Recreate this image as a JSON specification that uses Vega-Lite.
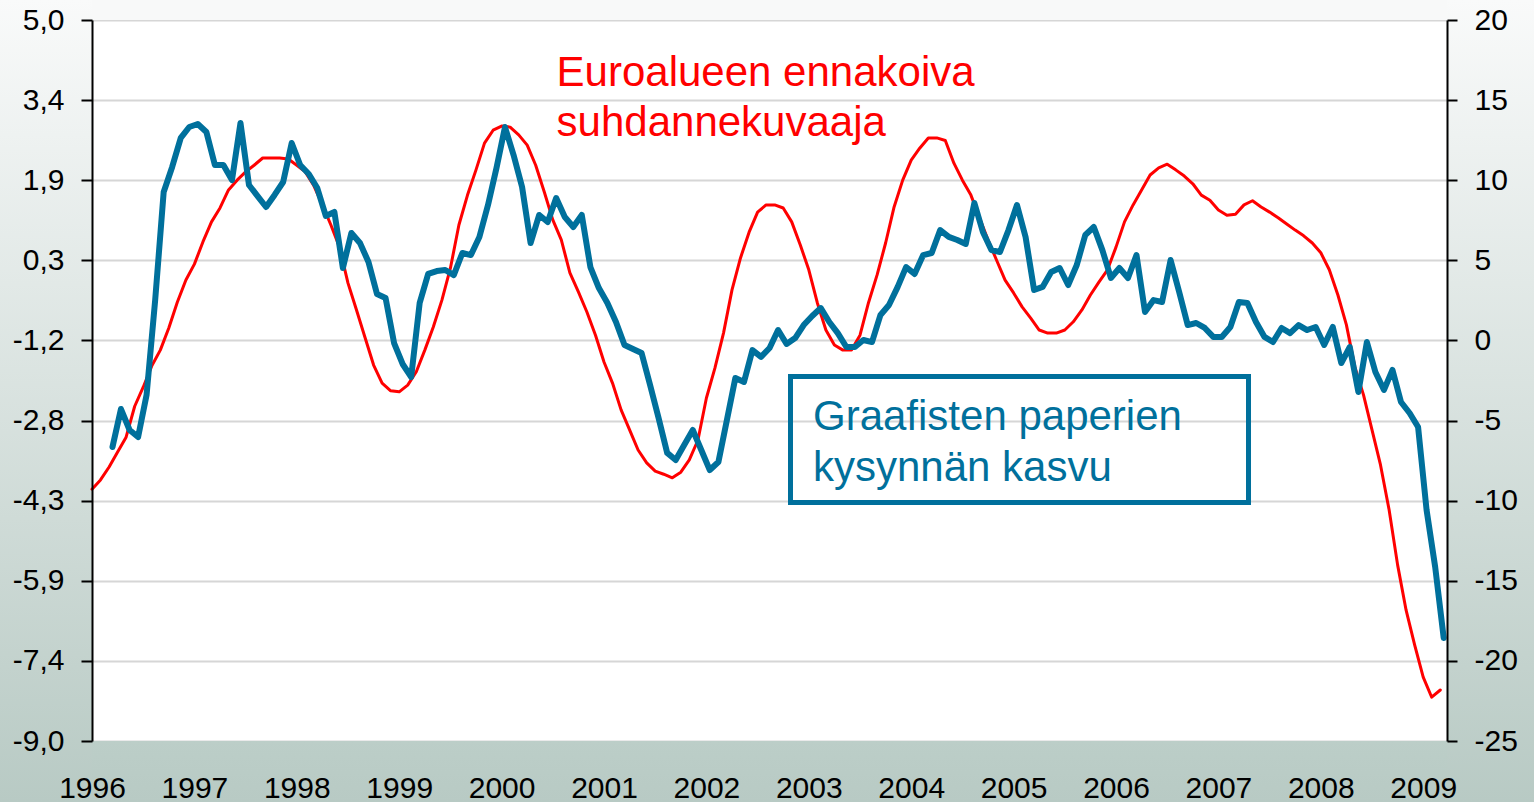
{
  "$schema": "https://vega.github.io/schema/vega-lite/v6.json",
  "width": 1355,
  "height": 721,
  "autosize": {"type": "none"},
  "padding": {"left": 92, "top": 20, "right": 87, "bottom": 61},
  "background": "#ffffff",
  "config": {
    "view": {"stroke": null, "fill": "#ffffff"},
    "font": "Liberation Sans",
    "locale": {"number": {"decimal": ",", "thousands": " ", "grouping": [3], "currency": ["", " EUR"], "minus": "-"}}
  },
  "datasets": {
    "euro": [
      {"t": 1996.000, "v": -4.11}, {"t": 1996.083, "v": -3.93}, {"t": 1996.167, "v": -3.68}, {"t": 1996.250, "v": -3.39},
      {"t": 1996.333, "v": -3.10}, {"t": 1996.417, "v": -2.50}, {"t": 1996.500, "v": -2.13}, {"t": 1996.583, "v": -1.72},
      {"t": 1996.667, "v": -1.41}, {"t": 1996.750, "v": -0.98}, {"t": 1996.833, "v": -0.48}, {"t": 1996.917, "v": -0.05},
      {"t": 1997.000, "v": 0.26}, {"t": 1997.083, "v": 0.69}, {"t": 1997.167, "v": 1.08}, {"t": 1997.250, "v": 1.35},
      {"t": 1997.333, "v": 1.70}, {"t": 1997.417, "v": 1.89}, {"t": 1997.500, "v": 2.05}, {"t": 1997.583, "v": 2.18},
      {"t": 1997.667, "v": 2.32}, {"t": 1997.750, "v": 2.32}, {"t": 1997.833, "v": 2.32}, {"t": 1997.917, "v": 2.30},
      {"t": 1998.000, "v": 2.18}, {"t": 1998.083, "v": 2.05}, {"t": 1998.167, "v": 1.78}, {"t": 1998.250, "v": 1.41},
      {"t": 1998.333, "v": 1.02}, {"t": 1998.417, "v": 0.59}, {"t": 1998.500, "v": -0.11}, {"t": 1998.583, "v": -0.63},
      {"t": 1998.667, "v": -1.17}, {"t": 1998.750, "v": -1.70}, {"t": 1998.833, "v": -2.05}, {"t": 1998.917, "v": -2.20},
      {"t": 1999.000, "v": -2.22}, {"t": 1999.083, "v": -2.09}, {"t": 1999.167, "v": -1.83}, {"t": 1999.250, "v": -1.41},
      {"t": 1999.333, "v": -0.96}, {"t": 1999.417, "v": -0.44}, {"t": 1999.500, "v": 0.18}, {"t": 1999.583, "v": 1.02},
      {"t": 1999.667, "v": 1.60}, {"t": 1999.750, "v": 2.09}, {"t": 1999.833, "v": 2.61}, {"t": 1999.917, "v": 2.86},
      {"t": 2000.000, "v": 2.94}, {"t": 2000.083, "v": 2.92}, {"t": 2000.167, "v": 2.77}, {"t": 2000.250, "v": 2.57},
      {"t": 2000.333, "v": 2.18}, {"t": 2000.417, "v": 1.66}, {"t": 2000.500, "v": 1.12}, {"t": 2000.583, "v": 0.73},
      {"t": 2000.667, "v": 0.09}, {"t": 2000.750, "v": -0.28}, {"t": 2000.833, "v": -0.67}, {"t": 2000.917, "v": -1.12},
      {"t": 2001.000, "v": -1.64}, {"t": 2001.083, "v": -2.05}, {"t": 2001.167, "v": -2.57}, {"t": 2001.250, "v": -2.96},
      {"t": 2001.333, "v": -3.35}, {"t": 2001.417, "v": -3.60}, {"t": 2001.500, "v": -3.76}, {"t": 2001.583, "v": -3.82},
      {"t": 2001.667, "v": -3.89}, {"t": 2001.750, "v": -3.78}, {"t": 2001.833, "v": -3.54}, {"t": 2001.917, "v": -3.16},
      {"t": 2002.000, "v": -2.34}, {"t": 2002.083, "v": -1.76}, {"t": 2002.167, "v": -1.08}, {"t": 2002.250, "v": -0.24},
      {"t": 2002.333, "v": 0.38}, {"t": 2002.417, "v": 0.88}, {"t": 2002.500, "v": 1.27}, {"t": 2002.583, "v": 1.41},
      {"t": 2002.667, "v": 1.41}, {"t": 2002.750, "v": 1.35}, {"t": 2002.833, "v": 1.08}, {"t": 2002.917, "v": 0.63},
      {"t": 2003.000, "v": 0.15}, {"t": 2003.083, "v": -0.49}, {"t": 2003.167, "v": -1.02}, {"t": 2003.250, "v": -1.31},
      {"t": 2003.333, "v": -1.41}, {"t": 2003.417, "v": -1.41}, {"t": 2003.500, "v": -1.12}, {"t": 2003.583, "v": -0.49},
      {"t": 2003.667, "v": 0.05}, {"t": 2003.750, "v": 0.67}, {"t": 2003.833, "v": 1.37}, {"t": 2003.917, "v": 1.89},
      {"t": 2004.000, "v": 2.28}, {"t": 2004.083, "v": 2.51}, {"t": 2004.167, "v": 2.71}, {"t": 2004.250, "v": 2.71},
      {"t": 2004.333, "v": 2.66}, {"t": 2004.417, "v": 2.22}, {"t": 2004.500, "v": 1.89}, {"t": 2004.583, "v": 1.60},
      {"t": 2004.667, "v": 1.16}, {"t": 2004.750, "v": 0.73}, {"t": 2004.833, "v": 0.34}, {"t": 2004.917, "v": -0.05},
      {"t": 2005.000, "v": -0.30}, {"t": 2005.083, "v": -0.57}, {"t": 2005.167, "v": -0.79}, {"t": 2005.250, "v": -1.02},
      {"t": 2005.333, "v": -1.08}, {"t": 2005.417, "v": -1.08}, {"t": 2005.500, "v": -1.02}, {"t": 2005.583, "v": -0.86},
      {"t": 2005.667, "v": -0.63}, {"t": 2005.750, "v": -0.34}, {"t": 2005.833, "v": -0.09}, {"t": 2005.917, "v": 0.15},
      {"t": 2006.000, "v": 0.59}, {"t": 2006.083, "v": 1.08}, {"t": 2006.167, "v": 1.41}, {"t": 2006.250, "v": 1.70},
      {"t": 2006.333, "v": 1.99}, {"t": 2006.417, "v": 2.13}, {"t": 2006.500, "v": 2.20}, {"t": 2006.583, "v": 2.09},
      {"t": 2006.667, "v": 1.97}, {"t": 2006.750, "v": 1.82}, {"t": 2006.833, "v": 1.60}, {"t": 2006.917, "v": 1.50},
      {"t": 2007.000, "v": 1.31}, {"t": 2007.083, "v": 1.21}, {"t": 2007.167, "v": 1.23}, {"t": 2007.250, "v": 1.41},
      {"t": 2007.333, "v": 1.49}, {"t": 2007.417, "v": 1.37}, {"t": 2007.500, "v": 1.27}, {"t": 2007.583, "v": 1.16},
      {"t": 2007.667, "v": 1.04}, {"t": 2007.750, "v": 0.92}, {"t": 2007.833, "v": 0.81}, {"t": 2007.917, "v": 0.67},
      {"t": 2008.000, "v": 0.48}, {"t": 2008.083, "v": 0.15}, {"t": 2008.167, "v": -0.34}, {"t": 2008.250, "v": -0.92},
      {"t": 2008.333, "v": -1.74}, {"t": 2008.417, "v": -2.28}, {"t": 2008.500, "v": -2.96}, {"t": 2008.583, "v": -3.64},
      {"t": 2008.667, "v": -4.51}, {"t": 2008.750, "v": -5.58}, {"t": 2008.833, "v": -6.46}, {"t": 2008.917, "v": -7.14},
      {"t": 2009.000, "v": -7.76}, {"t": 2009.083, "v": -8.15}, {"t": 2009.167, "v": -8.01}
    ],
    "paper": [
      {"t": 1996.200, "v": -6.65}, {"t": 1996.283, "v": -4.28}, {"t": 1996.367, "v": -5.59}, {"t": 1996.450, "v": -6.03},
      {"t": 1996.533, "v": -3.40}, {"t": 1996.617, "v": 2.52}, {"t": 1996.700, "v": 9.26}, {"t": 1996.783, "v": 10.83},
      {"t": 1996.867, "v": 12.64}, {"t": 1996.950, "v": 13.32}, {"t": 1997.033, "v": 13.51}, {"t": 1997.117, "v": 13.01},
      {"t": 1997.200, "v": 10.95}, {"t": 1997.283, "v": 10.95}, {"t": 1997.367, "v": 10.01}, {"t": 1997.450, "v": 13.57},
      {"t": 1997.533, "v": 9.70}, {"t": 1997.617, "v": 9.01}, {"t": 1997.700, "v": 8.33}, {"t": 1997.783, "v": 9.08},
      {"t": 1997.867, "v": 9.89}, {"t": 1997.950, "v": 12.32}, {"t": 1998.033, "v": 10.95}, {"t": 1998.117, "v": 10.39},
      {"t": 1998.200, "v": 9.51}, {"t": 1998.283, "v": 7.77}, {"t": 1998.367, "v": 8.02}, {"t": 1998.450, "v": 4.52},
      {"t": 1998.533, "v": 6.71}, {"t": 1998.617, "v": 6.08}, {"t": 1998.700, "v": 4.90}, {"t": 1998.783, "v": 2.90},
      {"t": 1998.867, "v": 2.65}, {"t": 1998.950, "v": -0.16}, {"t": 1999.033, "v": -1.47}, {"t": 1999.117, "v": -2.28},
      {"t": 1999.200, "v": 2.34}, {"t": 1999.283, "v": 4.15}, {"t": 1999.367, "v": 4.33}, {"t": 1999.450, "v": 4.40},
      {"t": 1999.533, "v": 4.08}, {"t": 1999.617, "v": 5.46}, {"t": 1999.700, "v": 5.33}, {"t": 1999.783, "v": 6.46},
      {"t": 1999.867, "v": 8.45}, {"t": 1999.950, "v": 10.76}, {"t": 2000.033, "v": 13.32}, {"t": 2000.117, "v": 11.57},
      {"t": 2000.200, "v": 9.58}, {"t": 2000.283, "v": 6.08}, {"t": 2000.367, "v": 7.83}, {"t": 2000.450, "v": 7.39},
      {"t": 2000.533, "v": 8.89}, {"t": 2000.617, "v": 7.70}, {"t": 2000.700, "v": 7.08}, {"t": 2000.783, "v": 7.83},
      {"t": 2000.867, "v": 4.58}, {"t": 2000.950, "v": 3.27}, {"t": 2001.033, "v": 2.34}, {"t": 2001.117, "v": 1.15},
      {"t": 2001.200, "v": -0.28}, {"t": 2001.283, "v": -0.53}, {"t": 2001.367, "v": -0.78}, {"t": 2001.450, "v": -2.78},
      {"t": 2001.533, "v": -4.84}, {"t": 2001.617, "v": -7.02}, {"t": 2001.700, "v": -7.46}, {"t": 2001.783, "v": -6.53},
      {"t": 2001.867, "v": -5.59}, {"t": 2001.950, "v": -6.84}, {"t": 2002.033, "v": -8.09}, {"t": 2002.117, "v": -7.59},
      {"t": 2002.200, "v": -4.97}, {"t": 2002.283, "v": -2.34}, {"t": 2002.367, "v": -2.59}, {"t": 2002.450, "v": -0.60},
      {"t": 2002.533, "v": -1.03}, {"t": 2002.617, "v": -0.47}, {"t": 2002.700, "v": 0.65}, {"t": 2002.783, "v": -0.22},
      {"t": 2002.867, "v": 0.15}, {"t": 2002.950, "v": 0.96}, {"t": 2003.033, "v": 1.53}, {"t": 2003.117, "v": 2.02},
      {"t": 2003.200, "v": 1.15}, {"t": 2003.283, "v": 0.46}, {"t": 2003.367, "v": -0.41}, {"t": 2003.450, "v": -0.41},
      {"t": 2003.533, "v": 0.03}, {"t": 2003.617, "v": -0.10}, {"t": 2003.700, "v": 1.59}, {"t": 2003.783, "v": 2.21},
      {"t": 2003.867, "v": 3.33}, {"t": 2003.950, "v": 4.58}, {"t": 2004.033, "v": 4.15}, {"t": 2004.117, "v": 5.33},
      {"t": 2004.200, "v": 5.46}, {"t": 2004.283, "v": 6.89}, {"t": 2004.367, "v": 6.46}, {"t": 2004.450, "v": 6.27},
      {"t": 2004.533, "v": 6.02}, {"t": 2004.617, "v": 8.58}, {"t": 2004.700, "v": 6.77}, {"t": 2004.783, "v": 5.64},
      {"t": 2004.867, "v": 5.52}, {"t": 2004.950, "v": 6.89}, {"t": 2005.033, "v": 8.45}, {"t": 2005.117, "v": 6.46},
      {"t": 2005.200, "v": 3.15}, {"t": 2005.283, "v": 3.34}, {"t": 2005.367, "v": 4.27}, {"t": 2005.450, "v": 4.52},
      {"t": 2005.533, "v": 3.46}, {"t": 2005.617, "v": 4.71}, {"t": 2005.700, "v": 6.58}, {"t": 2005.783, "v": 7.08},
      {"t": 2005.867, "v": 5.64}, {"t": 2005.950, "v": 3.90}, {"t": 2006.033, "v": 4.52}, {"t": 2006.117, "v": 3.90},
      {"t": 2006.200, "v": 5.33}, {"t": 2006.283, "v": 1.78}, {"t": 2006.367, "v": 2.52}, {"t": 2006.450, "v": 2.40},
      {"t": 2006.533, "v": 5.02}, {"t": 2006.617, "v": 3.02}, {"t": 2006.700, "v": 0.96}, {"t": 2006.783, "v": 1.09},
      {"t": 2006.867, "v": 0.78}, {"t": 2006.950, "v": 0.22}, {"t": 2007.033, "v": 0.22}, {"t": 2007.117, "v": 0.84},
      {"t": 2007.200, "v": 2.40}, {"t": 2007.283, "v": 2.34}, {"t": 2007.367, "v": 1.15}, {"t": 2007.450, "v": 0.22},
      {"t": 2007.533, "v": -0.10}, {"t": 2007.617, "v": 0.78}, {"t": 2007.700, "v": 0.46}, {"t": 2007.783, "v": 0.96},
      {"t": 2007.867, "v": 0.65}, {"t": 2007.950, "v": 0.84}, {"t": 2008.033, "v": -0.28}, {"t": 2008.117, "v": 0.84},
      {"t": 2008.200, "v": -1.41}, {"t": 2008.283, "v": -0.41}, {"t": 2008.367, "v": -3.22}, {"t": 2008.450, "v": -0.10},
      {"t": 2008.533, "v": -1.97}, {"t": 2008.617, "v": -3.09}, {"t": 2008.700, "v": -1.84}, {"t": 2008.783, "v": -3.84},
      {"t": 2008.867, "v": -4.53}, {"t": 2008.950, "v": -5.40}, {"t": 2009.033, "v": -10.58}, {"t": 2009.117, "v": -14.14},
      {"t": 2009.200, "v": -18.57}
    ]
  },
  "layer": [
    {
      "layer": [
        {
          "data": {"values": [{}]},
          "mark": {"type": "rect", "fill": "#f8f9f9", "stroke": null},
          "encoding": {
            "x": {"datum": 1996, "type": "quantitative", "scale": {"domain": [1996, 2009.2324], "nice": false, "zero": false},
              "axis": {"orient": "top", "values": [1996, 1997, 1998, 1999, 2000, 2001, 2002, 2003, 2004, 2005, 2006, 2007, 2008, 2009], "grid": true, "gridColor": "#c4c4c4", "gridWidth": 2, "labels": false, "ticks": false, "domain": false, "title": null, "zindex": 0}},
            "x2": {"datum": 2009.2324},
            "y": {"datum": 5, "type": "quantitative", "scale": {"domain": [-9, 5], "nice": false, "zero": false},
              "axis": {"orient": "right", "values": [-9, -7.4444, -5.8889, -4.3333, -2.7778, -1.2222, 0.3333, 1.8889, 3.4444, 5], "grid": true, "gridColor": "#d6d6d6", "gridWidth": 2, "labels": false, "ticks": false, "domain": false, "title": null, "zindex": 0}},
            "y2": {"datum": 5.3883}
          }
        },
        {
          "data": {"values": [{}]},
          "mark": {"type": "rect", "stroke": null, "fill": {"gradient": "linear", "x1": 0, "y1": 0, "x2": 0, "y2": 1, "stops": [{"offset": 0, "color": "#f9fafa"}, {"offset": 1, "color": "#b8cac4"}]}},
          "encoding": {
            "x": {"datum": 1994.9, "type": "quantitative", "axis": null},
            "x2": {"datum": 1996},
            "y": {"datum": 5.3883, "type": "quantitative",
              "axis": {"orient": "left", "values": [-9, -7.4444, -5.8889, -4.3333, -2.7778, -1.2222, 0.3333, 1.8889, 3.4444, 5], "format": ".1f", "grid": false, "domain": true, "domainColor": "#000000", "domainWidth": 2, "ticks": true, "tickColor": "#000000", "tickWidth": 2, "tickSize": 11, "labelPadding": 17, "labelFontSize": 30, "labelColor": "#000000", "labelFont": "Liberation Sans", "labelOverlap": false, "labelFlush": false, "title": null, "zindex": 1}},
            "y2": {"datum": -10.1845}
          }
        },
        {
          "data": {"values": [{}]},
          "mark": {"type": "rect", "stroke": null, "fill": {"gradient": "linear", "x1": 0, "y1": 0, "x2": 0, "y2": 1, "stops": [{"offset": 0, "color": "#f9fafa"}, {"offset": 1, "color": "#b8cac4"}]}},
          "encoding": {
            "x": {"datum": 2009.2324, "type": "quantitative", "axis": null},
            "x2": {"datum": 2010.4},
            "y": {"datum": 5.3883, "type": "quantitative", "axis": null},
            "y2": {"datum": -10.1845}
          }
        },
        {
          "data": {"values": [{}]},
          "mark": {"type": "rect", "stroke": null, "fill": {"gradient": "linear", "x1": 0, "y1": 0, "x2": 0, "y2": 1, "stops": [{"offset": 0, "color": "#bccec8"}, {"offset": 1, "color": "#b8cac4"}]}},
          "encoding": {
            "x": {"datum": 1996, "type": "quantitative", "axis": null},
            "x2": {"datum": 2009.2324},
            "y": {"datum": -9, "type": "quantitative", "axis": null},
            "y2": {"datum": -10.1845}
          }
        },
        {
          "data": {"name": "euro"},
          "mark": {"type": "line", "color": "#ff0000", "strokeWidth": 3, "strokeJoin": "round", "strokeCap": "round"},
          "encoding": {
            "x": {"field": "t", "type": "quantitative", "axis": null},
            "y": {"field": "v", "type": "quantitative", "axis": null}
          }
        },
        {
          "data": {"values": [{}]},
          "mark": {"type": "text", "text": ["Euroalueen ennakoiva", "suhdannekuvaaja"], "align": "left", "baseline": "alphabetic", "lineHeight": 50, "fontSize": 42, "font": "Liberation Sans", "color": "#ff0000"},
          "encoding": {
            "x": {"datum": 2000.537, "type": "quantitative", "axis": null},
            "y": {"datum": 3.718, "type": "quantitative", "axis": null}
          }
        },
        {
          "data": {"values": [{}]},
          "mark": {"type": "rect", "filled": false, "color": "#00709c", "strokeWidth": 5},
          "encoding": {
            "x": {"datum": 2002.8213, "type": "quantitative", "axis": null},
            "x2": {"datum": 2007.294},
            "y": {"datum": -1.9223, "type": "quantitative", "axis": null},
            "y2": {"datum": -4.3689}
          }
        },
        {
          "data": {"values": [{}]},
          "mark": {"type": "text", "text": ["Graafisten paperien", "kysynnän kasvu"], "align": "left", "baseline": "alphabetic", "lineHeight": 51, "fontSize": 42, "font": "Liberation Sans", "color": "#00709c"},
          "encoding": {
            "x": {"datum": 2003.041, "type": "quantitative", "axis": null},
            "y": {"datum": -2.961, "type": "quantitative", "axis": null}
          }
        }
      ],
      "resolve": {"axis": {"y": "independent"}}
    },
    {
      "data": {"name": "paper"},
      "mark": {"type": "line", "color": "#00709c", "strokeWidth": 6, "strokeJoin": "round", "strokeCap": "round"},
      "encoding": {
        "x": {"field": "t", "type": "quantitative", "scale": {"domain": [1996, 2009.2324], "nice": false, "zero": false},
          "axis": {"orient": "bottom", "values": [1996, 1997, 1998, 1999, 2000, 2001, 2002, 2003, 2004, 2005, 2006, 2007, 2008, 2009], "format": "d", "grid": false, "domain": false, "ticks": false, "tickSize": 0, "labelPadding": 32, "labelFontSize": 30, "labelColor": "#000000", "labelFont": "Liberation Sans", "labelOverlap": false, "labelFlush": false, "title": null, "zindex": 1}},
        "y": {"field": "v", "type": "quantitative", "scale": {"domain": [-25, 20], "nice": false, "zero": false},
          "axis": {"orient": "right", "values": [-25, -20, -15, -10, -5, 0, 5, 10, 15, 20], "format": "d", "grid": false, "domain": true, "domainColor": "#000000", "domainWidth": 2, "ticks": true, "tickColor": "#000000", "tickWidth": 2, "tickSize": 10, "labelPadding": 17, "labelFontSize": 30, "labelColor": "#000000", "labelFont": "Liberation Sans", "labelOverlap": false, "labelFlush": false, "title": null, "zindex": 1}}
      }
    }
  ],
  "resolve": {"scale": {"y": "independent"}, "axis": {"x": "independent"}}
}
